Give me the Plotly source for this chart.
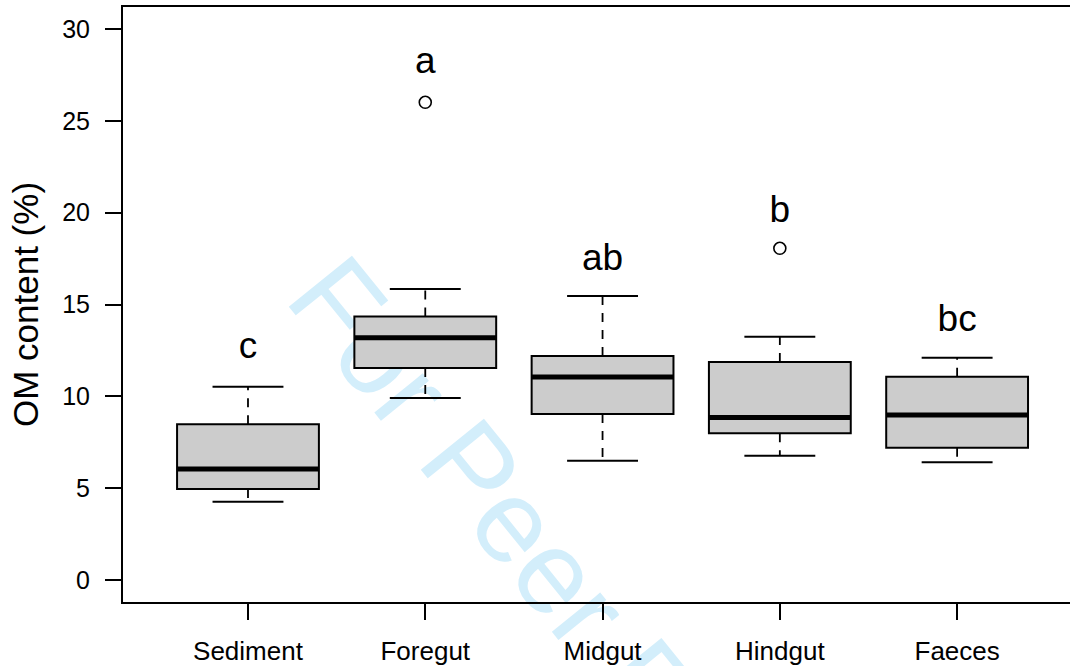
import plotly.graph_objects as go

# ---- data ----
categories = ["Sediment", "Foregut", "Midgut", "Hindgut", "Faeces"]
positions = [1, 2, 3, 4, 5]
lower_whisker = [4.26, 9.91, 6.49, 6.77, 6.41]
q1 = [4.95, 11.54, 9.04, 7.99, 7.20]
median = [6.04, 13.19, 11.05, 8.84, 8.98]
q3 = [8.48, 14.34, 12.20, 11.87, 11.07]
upper_whisker = [10.52, 15.84, 15.46, 13.25, 12.10]
outlier_x = [2, 4]
outlier_y = [26.01, 18.06]
letters = ["c", "a", "ab", "b", "bc"]
letter_y = [12.61, 28.09, 17.40, 20.02, 14.08]
y_ticks = [0, 5, 10, 15, 20, 25, 30]

FONT = "Liberation Sans, Arial, Helvetica, sans-serif"
BOX_W = 0.8
CAP_HALF = 0.2
MED_HALF = 0.4

fig = go.Figure()

# dashed whiskers (drawn from box edge outwards)
wx, wy = [], []
for p, lo, a, b, hi in zip(positions, lower_whisker, q1, q3, upper_whisker):
    wx += [p, p, None, p, p, None]
    wy += [b, hi, None, a, lo, None]
fig.add_trace(go.Scatter(x=wx, y=wy, mode="lines",
                         line=dict(color="black", width=1.8, dash="9px,8px"),
                         hoverinfo="skip", showlegend=False))

# boxes
fig.add_trace(go.Box(x=positions, q1=q1, median=median, q3=q3,
                     lowerfence=q1, upperfence=q3, width=BOX_W,
                     whiskerwidth=0, boxpoints=False,
                     fillcolor="#cccccc", line=dict(color="black", width=2),
                     hoverinfo="skip", showlegend=False))

# thick medians
mx, my = [], []
for p, m in zip(positions, median):
    mx += [p - MED_HALF, p + MED_HALF, None]
    my += [m, m, None]
fig.add_trace(go.Scatter(x=mx, y=my, mode="lines",
                         line=dict(color="black", width=5),
                         hoverinfo="skip", showlegend=False))

# whisker caps
cx, cy = [], []
for p, lo, hi in zip(positions, lower_whisker, upper_whisker):
    cx += [p - CAP_HALF, p + CAP_HALF, None, p - CAP_HALF, p + CAP_HALF, None]
    cy += [hi, hi, None, lo, lo, None]
fig.add_trace(go.Scatter(x=cx, y=cy, mode="lines",
                         line=dict(color="black", width=2),
                         hoverinfo="skip", showlegend=False))

# outliers
fig.add_trace(go.Scatter(x=outlier_x, y=outlier_y, mode="markers",
                         marker=dict(symbol="circle-open", size=12, color="black",
                                     line=dict(width=1.6, color="black")),
                         hoverinfo="skip", showlegend=False))

# significance letters
fig.add_trace(go.Scatter(x=positions, y=letter_y, mode="text", text=letters,
                         textposition="middle center",
                         textfont=dict(family=FONT, size=37, color="black"),
                         hoverinfo="skip", showlegend=False))

fig.update_layout(
    width=1200, height=666,
    margin=dict(l=123, r=0, t=7, b=64),
    paper_bgcolor="white",
    plot_bgcolor="rgba(0,0,0,0)",
    font=dict(family=FONT, color="black"),
    shapes=[dict(
        type="rect", xref="paper", yref="paper",
        x0=0.4415, x1=0.4435, y0=-0.012, y1=-0.008,
        line=dict(width=0, color="rgba(0,0,0,0)"),
        fillcolor="rgba(0,0,0,0)", layer="below",
        label=dict(text="For Peer Review", textangle=51,
                   textposition="middle center",
                   font=dict(family=FONT, size=118, color="#d3eefb")),
    )],
)

fig.update_xaxes(
    range=[0.295, 6.37], tickmode="array", tickvals=positions, ticktext=categories,
    ticks="outside", ticklen=16, tickwidth=1.5, tickcolor="black",
    showline=True, linecolor="black", linewidth=2, mirror=True,
    showgrid=False, zeroline=False,
    tickfont=dict(family=FONT, size=26, color="black"),
    ticklabelstandoff=9,
)
fig.update_yaxes(
    range=[-1.2, 31.2], tickmode="array", tickvals=y_ticks,
    ticktext=[str(v) for v in y_ticks],
    ticks="outside", ticklen=16, tickwidth=1.5, tickcolor="black",
    showline=True, linecolor="black", linewidth=2, mirror=False,
    showgrid=False, zeroline=False,
    tickfont=dict(family=FONT, size=25, color="black"),
    ticklabelstandoff=10,
    title=dict(text="OM content (%)", font=dict(family=FONT, size=35, color="black"),
               standoff=13),
)

fig.write_html(
    "out.html",
    config={"displayModeBar": False},
    post_script=(
        "var s=document.createElement('style');"
        "s.textContent='html,body{margin:0;padding:0;overflow:hidden;}"
        "::-webkit-scrollbar{display:none;}';"
        "document.head.appendChild(s);"
    ),
)
